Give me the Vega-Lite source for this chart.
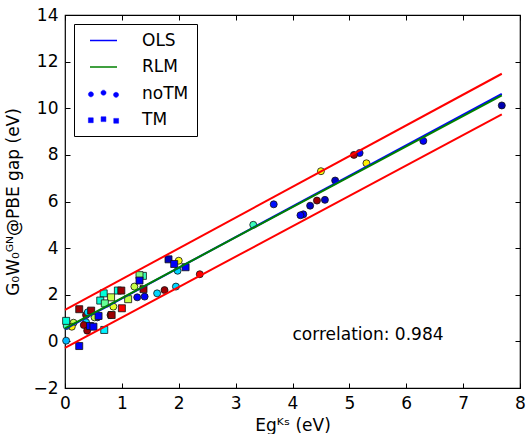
{
  "$schema": "https://vega.github.io/schema/vega-lite/v6.json",
  "width": 455,
  "height": 373,
  "autosize": {"type": "none"},
  "padding": {"left": 65, "top": 15, "right": 7, "bottom": 46},
  "background": "white",
  "config": {
    "font": "DejaVu Sans",
    "view": {"stroke": "black", "strokeWidth": 1.2},
    "axis": {
      "grid": false,
      "domain": false,
      "ticks": true,
      "tickColor": "black",
      "tickSize": -5,
      "tickWidth": 1,
      "labelFont": "DejaVu Sans",
      "labelFontSize": 17,
      "labelColor": "black",
      "titleFont": "DejaVu Sans",
      "titleFontSize": 17,
      "titleFontWeight": "normal",
      "titleColor": "black",
      "labelFlush": false,
      "labelOverlap": false
    }
  },
  "datasets": {
    "pts": [
      {"x": 7.68, "y": 10.12, "type": "noTM", "c": 0.05},
      {"x": 6.30, "y": 8.60, "type": "noTM", "c": 0.12},
      {"x": 5.18, "y": 8.08, "type": "noTM", "c": 0.12},
      {"x": 5.08, "y": 8.00, "type": "noTM", "c": 0.95},
      {"x": 5.30, "y": 7.64, "type": "noTM", "c": 0.64},
      {"x": 4.50, "y": 7.30, "type": "noTM", "c": 0.62},
      {"x": 4.75, "y": 6.90, "type": "noTM", "c": 0.07},
      {"x": 4.57, "y": 6.07, "type": "noTM", "c": 0.07},
      {"x": 4.43, "y": 6.04, "type": "noTM", "c": 0.97},
      {"x": 4.31, "y": 5.82, "type": "noTM", "c": 0.07},
      {"x": 4.19, "y": 5.45, "type": "noTM", "c": 0.12},
      {"x": 4.14, "y": 5.41, "type": "noTM", "c": 0.12},
      {"x": 3.67, "y": 5.88, "type": "noTM", "c": 0.13},
      {"x": 3.31, "y": 5.00, "type": "noTM", "c": 0.45},
      {"x": 2.37, "y": 2.88, "type": "noTM", "c": 0.88},
      {"x": 2.00, "y": 3.46, "type": "noTM", "c": 0.62},
      {"x": 1.98, "y": 3.03, "type": "noTM", "c": 0.33},
      {"x": 1.95, "y": 2.35, "type": "noTM", "c": 0.33},
      {"x": 1.75, "y": 2.20, "type": "noTM", "c": 0.97},
      {"x": 1.62, "y": 2.06, "type": "noTM", "c": 0.33},
      {"x": 1.40, "y": 1.92, "type": "noTM", "c": 0.12},
      {"x": 1.27, "y": 1.89, "type": "noTM", "c": 0.12},
      {"x": 1.22, "y": 2.35, "type": "noTM", "c": 0.57},
      {"x": 0.85, "y": 1.49, "type": "noTM", "c": 0.60},
      {"x": 0.80, "y": 1.13, "type": "noTM", "c": 0.97},
      {"x": 0.57, "y": 1.03, "type": "noTM", "c": 0.12},
      {"x": 0.52, "y": 1.03, "type": "noTM", "c": 0.57},
      {"x": 0.37, "y": 1.13, "type": "noTM", "c": 0.97},
      {"x": 0.40, "y": 1.25, "type": "noTM", "c": 0.33},
      {"x": 0.15, "y": 0.80, "type": "noTM", "c": 0.57},
      {"x": 0.12, "y": 0.63, "type": "noTM", "c": 0.64},
      {"x": 0.37, "y": 0.82, "type": "noTM", "c": 0.33},
      {"x": 0.33, "y": 0.70, "type": "noTM", "c": 0.97},
      {"x": 0.39, "y": 0.46, "type": "noTM", "c": 0.97},
      {"x": 0.03, "y": 0.66, "type": "noTM", "c": 0.45},
      {"x": 0.02, "y": 0.03, "type": "noTM", "c": 0.30},
      {"x": 1.82, "y": 3.52, "type": "TM", "c": 0.06},
      {"x": 1.92, "y": 3.32, "type": "TM", "c": 0.12},
      {"x": 2.12, "y": 3.18, "type": "TM", "c": 0.12},
      {"x": 1.37, "y": 2.81, "type": "TM", "c": 0.45},
      {"x": 1.31, "y": 2.84, "type": "TM", "c": 0.50},
      {"x": 1.31, "y": 2.61, "type": "TM", "c": 0.12},
      {"x": 1.38, "y": 2.24, "type": "TM", "c": 0.97},
      {"x": 0.93, "y": 2.18, "type": "TM", "c": 0.42},
      {"x": 0.99, "y": 2.18, "type": "TM", "c": 0.97},
      {"x": 1.11, "y": 1.81, "type": "TM", "c": 0.57},
      {"x": 0.68, "y": 2.06, "type": "TM", "c": 0.42},
      {"x": 0.81, "y": 1.89, "type": "TM", "c": 0.57},
      {"x": 0.62, "y": 1.75, "type": "TM", "c": 0.42},
      {"x": 0.70, "y": 1.63, "type": "TM", "c": 0.48},
      {"x": 1.00, "y": 1.42, "type": "TM", "c": 0.88},
      {"x": 0.25, "y": 1.38, "type": "TM", "c": 0.97},
      {"x": 0.46, "y": 1.32, "type": "TM", "c": 0.97},
      {"x": 0.02, "y": 0.88, "type": "TM", "c": 0.42},
      {"x": 0.44, "y": 0.66, "type": "TM", "c": 0.12},
      {"x": 0.50, "y": 0.63, "type": "TM", "c": 0.12},
      {"x": 0.69, "y": 0.49, "type": "TM", "c": 0.36},
      {"x": 0.25, "y": -0.20, "type": "TM", "c": 0.12},
      {"x": 0.59, "y": 1.09, "type": "TM", "c": 0.12},
      {"x": 0.82, "y": 1.13, "type": "TM", "c": 0.97}
    ],
    "fits": [
      {"series": "OLS", "x": 0, "y": 0.53},
      {"series": "OLS", "x": 7.68, "y": 10.62},
      {"series": "RLM", "x": 0, "y": 0.56},
      {"series": "RLM", "x": 7.68, "y": 10.55}
    ],
    "bounds": [
      {"bound": "upper", "x": 0, "y": 1.35},
      {"bound": "upper", "x": 7.68, "y": 11.48},
      {"bound": "lower", "x": 0, "y": -0.28},
      {"bound": "lower", "x": 7.68, "y": 9.74}
    ],
    "ann": [
      {"x": 4.0, "y": 0.27, "label": "correlation: 0.984"}
    ]
  },
  "layer": [
    {
      "data": {"name": "pts"},
      "mark": {"type": "point", "filled": true, "size": 49, "stroke": "#111", "strokeWidth": 0.8, "opacity": 1},
      "encoding": {
        "x": {"field": "x", "type": "quantitative", "scale": {"domain": [0, 8], "nice": false, "zero": false},
              "axis": {"orient": "bottom", "values": [0,1,2,3,4,5,6,7,8], "title": "Egᴷˢ (eV)", "labelPadding": 12, "titlePadding": 6}},
        "y": {"field": "y", "type": "quantitative", "scale": {"domain": [-2, 14], "nice": false, "zero": false},
              "axis": {"orient": "left", "values": [-2,0,2,4,6,8,10,12,14], "title": "G₀W₀ᴳᴺ@PBE gap (eV)", "labelPadding": 12, "titlePadding": 10}},
        "fill": {"field": "c", "type": "quantitative", "legend": null,
                 "scale": {"domain": [0, 1], "range": ["#00007f", "#0000ff", "#0080ff", "#00ffff", "#80ff80", "#ffff00", "#ff8000", "#ff0000", "#7f0000"]}},
        "shape": {"field": "type", "type": "nominal", "legend": null,
                  "scale": {"domain": ["noTM", "TM"], "range": ["circle", "square"]}}
      }
    },
    {
      "data": {"name": "fits"},
      "mark": {"type": "line", "strokeWidth": 2},
      "encoding": {
        "x": {"field": "x", "type": "quantitative", "axis": null},
        "y": {"field": "y", "type": "quantitative", "axis": null},
        "stroke": {"field": "series", "type": "nominal",
                   "scale": {"domain": ["OLS", "RLM", "noTM", "TM"], "range": ["#0000ff", "#008000", "#0000ff", "#0000ff"]},
                   "legend": {
                     "title": null,
                     "orient": "top-left",
                     "offset": 9,
                     "padding": 8,
                     "strokeColor": "black",
                     "fillColor": "white",
                     "cornerRadius": 0,
                     "symbolSize": 729,
                     "symbolStrokeWidth": 1.5,
                     "symbolOffset": 13,
                     "labelOffset": 30,
                     "labelFontSize": 17,
                     "labelFont": "DejaVu Sans",
                     "labelColor": "black",
                     "rowPadding": 8.5,
                     "encode": {
                       "symbols": {
                         "update": {
                           "size": {"value": 729},
                           "shape": {"signal": "datum.value === 'noTM' ? 'M-1.12,0.06a0.19,0.19 0 1,0 0.38,0a0.19,0.19 0 1,0 -0.38,0ZM-0.19,-0.06a0.19,0.19 0 1,0 0.38,0a0.19,0.19 0 1,0 -0.38,0ZM0.74,0.1a0.19,0.19 0 1,0 0.38,0a0.19,0.19 0 1,0 -0.38,0Z' : datum.value === 'TM' ? 'M-1.12,-0.16h0.36v0.36h-0.36ZM-0.18,-0.24h0.36v0.36h-0.36ZM0.76,-0.12h0.36v0.36h-0.36Z' : 'M-1,0H1'"},
                           "fill": {"signal": "datum.value === 'noTM' || datum.value === 'TM' ? '#0000ff' : 'transparent'"},
                           "strokeWidth": {"signal": "datum.value === 'noTM' || datum.value === 'TM' ? 0.5 : 1.5"}
                         }
                       }
                     }
                   }}
      }
    },
    {
      "data": {"name": "bounds"},
      "mark": {"type": "line", "stroke": "#ff0000", "strokeWidth": 2},
      "encoding": {
        "x": {"field": "x", "type": "quantitative",
              "axis": {"orient": "top", "values": [0,1,2,3,4,5,6,7,8], "labels": false, "title": null}},
        "y": {"field": "y", "type": "quantitative",
              "axis": {"orient": "right", "values": [-2,0,2,4,6,8,10,12,14], "labels": false, "title": null}},
        "detail": {"field": "bound", "type": "nominal"}
      }
    },
    {
      "data": {"name": "ann"},
      "mark": {"type": "text", "align": "left", "baseline": "middle", "fontSize": 17, "font": "DejaVu Sans", "color": "black"},
      "encoding": {
        "x": {"field": "x", "type": "quantitative", "axis": null},
        "y": {"field": "y", "type": "quantitative", "axis": null},
        "text": {"field": "label"}
      }
    }
  ],
  "resolve": {"axis": {"x": "independent", "y": "independent"}}
}
